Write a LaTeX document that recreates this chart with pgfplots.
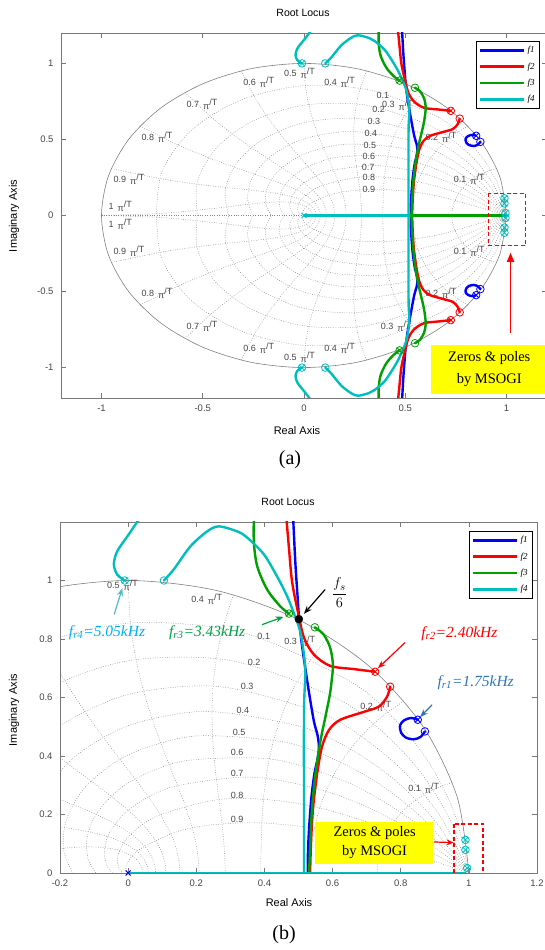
\documentclass[border=0pt]{standalone}
\usepackage{fontspec}
\setmainfont{Liberation Sans}
\newfontfamily\tnr{Liberation Serif}
\usepackage{pgfplots}
\usepackage{pgfplotstable}
\pgfplotsset{compat=1.18}
\usetikzlibrary{arrows.meta}

\definecolor{cB}{RGB}{0,0,255}
\definecolor{cR}{RGB}{255,0,0}
\definecolor{cG}{RGB}{0,160,0}
\definecolor{cC}{RGB}{0,190,190}
\definecolor{gridc}{RGB}{135,135,135}
\definecolor{axc}{RGB}{120,120,120}
\definecolor{lblc}{RGB}{70,70,70}
\definecolor{tfr4}{RGB}{0,176,240}
\definecolor{afr4}{RGB}{80,190,190}
\definecolor{tfr3}{RGB}{0,160,70}
\definecolor{tfr1}{RGB}{46,117,182}
\definecolor{ybox}{RGB}{255,255,0}

\newcommand{\pT}[1]{#1\hspace{4pt}\raisebox{-2.5pt}{π}\raisebox{1.5pt}{/T}}

% constant damping lines (polar: angle deg, radius)
\pgfplotstableread{
a z1 z2 z3 z4 z5 z6 z7 z8 z9
0 1 1 1 1 1 1 1 1 1
11.25 0.9805 0.9607 0.9401 0.9179 0.8928 0.8631 0.8249 0.7697 0.6667
22.5 0.9613 0.9230 0.8838 0.8425 0.7972 0.7449 0.6805 0.5924 0.4445
33.75 0.9425 0.8867 0.8309 0.7733 0.7117 0.6429 0.5614 0.4559 0.2963
45 0.9241 0.8519 0.7811 0.7098 0.6355 0.5549 0.4631 0.3509 0.1976
67.5 0.8883 0.7863 0.6904 0.5980 0.5065 0.4133 0.3151 0.2079 0.0878
90 0.8540 0.7257 0.6102 0.5038 0.4038 0.3079 0.2145 0.1231 0.0390
112.5 0.8209 0.6698 0.5393 0.4244 0.3219 0.2293 0.1459 0.0729 0.0174
135 0.7891 0.6182 0.4766 0.3576 0.2566 0.1708 0.0993 0.0432 0.0077
157.5 0.7586 0.5706 0.4213 0.3013 0.2045 0.1272 0.0676 0.0256 0.0034
180 0.7293 0.5266 0.3723 0.2539 0.1630 0.0948 0.0460 0.0152 0.0015
}\zt

% constant natural frequency curves (polar)
\pgfplotstableread{
a1 r1 a2 r2 a3 r3 a4 r4 a5 r5 a6 r6 a7 r7 a8 r8 a9 r9 a10 r10
18 1 36 1 54 1 72 1 90 1 108 1 126 1 144 1 162 1 180 1
17.910 0.9691 35.820 0.9391 53.729 0.9101 71.639 0.8819 89.549 0.8546 107.459 0.8282 125.369 0.8026 143.278 0.7777 161.188 0.7537 179.098 0.7304
17.636 0.9391 35.273 0.8819 52.909 0.8282 70.546 0.7777 88.182 0.7304 105.818 0.6859 123.455 0.6442 141.091 0.6049 158.728 0.5681 176.364 0.5335
17.171 0.9101 34.342 0.8282 51.513 0.7537 68.684 0.6859 85.855 0.6242 103.025 0.5681 120.196 0.5170 137.367 0.4705 154.538 0.4282 171.709 0.3897
16.497 0.8819 32.994 0.7777 49.491 0.6859 65.988 0.6049 82.485 0.5335 98.982 0.4705 115.479 0.4149 131.976 0.3660 148.473 0.3227 164.970 0.2846
15.588 0.8546 31.177 0.7304 46.765 0.6242 62.354 0.5335 77.942 0.4559 93.531 0.3897 109.119 0.3330 124.708 0.2846 140.296 0.2432 155.885 0.2079
14.4 0.8282 28.8 0.6859 43.2 0.5681 57.6 0.4705 72 0.3897 86.4 0.3227 100.8 0.2673 115.2 0.2214 129.6 0.1833 144 0.1518
12.855 0.8026 25.709 0.6442 38.564 0.5170 51.418 0.4149 64.273 0.3330 77.127 0.2673 89.982 0.2145 102.836 0.1722 115.691 0.1382 128.545 0.1109
10.8 0.7777 21.6 0.6049 32.4 0.4705 43.2 0.3660 54 0.2846 64.8 0.2214 75.6 0.1722 86.4 0.1339 97.2 0.1041 108 0.0810
7.846 0.7537 15.692 0.5681 23.539 0.4282 31.385 0.3227 39.231 0.2432 47.077 0.1833 54.923 0.1382 62.770 0.1041 70.616 0.0785 78.462 0.0592
5.620 0.7420 11.239 0.5505 16.859 0.4085 22.478 0.3031 28.098 0.2249 33.718 0.1669 39.337 0.1238 44.957 0.0918 50.576 0.0682 56.196 0.0506
2.540 0.7327 5.080 0.5368 7.619 0.3933 10.159 0.2882 12.699 0.2112 15.239 0.1547 17.779 0.1134 20.318 0.0831 22.858 0.0609 25.398 0.0446
0 0.7304 0 0.5335 0 0.3897 0 0.2846 0 0.2079 0 0.1518 0 0.1109 0 0.0810 0 0.0592 0 0.0432
}\wt

% unit circle
\pgfplotstableread{
a r
0 1
15 1
30 1
45 1
60 1
75 1
90 1
105 1
120 1
135 1
150 1
165 1
180 1
195 1
210 1
225 1
240 1
255 1
270 1
285 1
300 1
315 1
330 1
345 1
360 1
}\ct

% root locus branches (upper half)
\pgfplotstableread{
x y
0.484 1.22
0.491 1.055
0.497 0.95
0.502 0.866
0.510 0.780
0.520 0.700
0.531 0.616
0.545 0.520
0.556 0.470
0.560 0.430
0.556 0.390
0.547 0.342
0.538 0.260
0.532 0.170
0.528 0.080
0.527 0.000
}\tBa
\pgfplotstableread{
x y
0.850 0.524
0.830 0.530
0.810 0.522
0.798 0.505
0.801 0.480
0.815 0.463
0.838 0.457
0.858 0.465
0.871 0.484
}\tBb
\pgfplotstableread{
x y
0.464 1.22
0.472 1.110
0.481 0.997
0.498 0.894
0.516 0.805
0.545 0.747
0.593 0.708
0.663 0.697
0.725 0.688
}\tRa
\pgfplotstableread{
x y
0.769 0.637
0.760 0.603
0.736 0.569
0.692 0.551
0.623 0.524
0.590 0.490
0.569 0.432
0.555 0.342
0.543 0.226
0.537 0.113
0.534 0.000
}\tRb
\pgfplotstableread{
x y
0.369 1.22
0.369 1.130
0.379 1.048
0.408 0.969
0.447 0.911
0.472 0.887
}\tGa
\pgfplotstableread{
x y
0.548 0.840
0.574 0.815
0.593 0.770
0.601 0.712
0.597 0.654
0.592 0.610
0.579 0.534
0.565 0.455
0.550 0.342
0.540 0.226
0.535 0.113
0.531 0.000
}\tGb
\pgfplotstableread{
x y
0.038 1.22
0.002 1.158
-0.032 1.100
-0.042 1.055
-0.032 1.020
-0.010 1.000
}\tCa
\pgfplotstableread{
x y
0.105 1.000
0.134 1.038
0.183 1.117
0.232 1.168
0.266 1.185
0.320 1.168
0.349 1.147
0.398 1.090
0.437 1.014
0.467 0.945
0.490 0.877
0.505 0.826
0.516 0.747
0.520 0.680
0.517 0.600
0.516 0.500
0.516 0.300
0.516 0.000
}\tCb

\tikzset{gl/.style={font=\fontsize{9}{10}\selectfont, text=lblc, inner sep=0pt},
  rdash/.style={draw=cR, line width=1.8pt, dash pattern=on 4pt off 2.5pt}}
\pgfplotsset{
  rl/.style={
    scale only axis,
    axis line style={draw=axc, line width=0.7pt},
    every tick/.style={draw=axc, line width=0.6pt},
    major tick length=5pt,
    tick align=inside,
    ticklabel style={font=\fontsize{9.5}{11}\selectfont, text=lblc},
    xticklabel style={yshift=-3pt},
    yticklabel style={xshift=-4pt},
    legend cell align=left,
    legend style={draw=black, line width=0.8pt, fill=white,
      font=\tnr\itshape\fontsize{9}{10}\selectfont,
      inner xsep=3pt, inner ysep=3pt, row sep=4.5pt},
    legend image code/.code={\draw[##1] (0pt,0pt) -- (44pt,0pt);},
  },
  zg/.style={draw=gridc, line width=0.45pt, dash pattern=on 0.8pt off 1.6pt, smooth, no marks, forget plot, data cs=polar},
  zgc/.style={draw=gridc, line width=0.45pt, dash pattern=on 0.8pt off 1.6pt, no marks, forget plot},
  uc/.style={draw=gray, line width=0.6pt, smooth, no marks, forget plot, data cs=polar},
  cur/.style={line width=2.4pt, smooth, no marks, forget plot, line cap=round, line join=round},
  otm/.style={only marks, mark=otimes, mark size=3.8pt, mark options={line width=0.8pt}, forget plot},
  ocm/.style={only marks, mark=o, mark size=3.8pt, mark options={line width=0.8pt}, forget plot},
}

\begin{document}
\begin{tikzpicture}
% ================= (a) =================
\begin{axis}[rl, at={(61pt,552pt)}, anchor=south west, width=486pt, height=365pt,
  xmin=-1.2, xmax=1.2, ymin=-1.2, ymax=1.2,
  xtick={-1,-0.5,0,0.5,1}, xticklabels={-1,-0.5,0,0.5,1},
  ytick={-1,-0.5,0,0.5,1}, yticklabels={-1,-0.5,0,0.5,1},
  legend style={at={(0.9856,0.978)}, anchor=north east}]
\addplot[zgc] coordinates {(-1,0) (1,0)};
\pgfplotsinvokeforeach{1,...,9}{
  \addplot[zg] table[x=a,y=z#1]{\zt};
  \addplot[zg] table[x expr=-\thisrow{a},y=z#1]{\zt};
}
\pgfplotsinvokeforeach{1,...,10}{
  \addplot[zg] table[x=a#1,y=r#1]{\wt};
  \addplot[zg] table[x expr=-\thisrow{a#1},y=r#1]{\wt};
}
\addplot[uc] table[x=a,y=r]{\ct};
% grid labels
\node[gl,anchor=west] at (axis cs:0.739,0.237) {\pT{0.1}};
\node[gl,anchor=west] at (axis cs:0.600,0.513) {\pT{0.2}};
\node[gl,anchor=west] at (axis cs:0.385,0.727) {\pT{0.3}};
\node[gl,anchor=west] at (axis cs:0.099,0.875) {\pT{0.4}};
\node[gl,anchor=west] at (axis cs:-0.099,0.934) {\pT{0.5}};
\node[gl,anchor=west] at (axis cs:-0.300,0.875) {\pT{0.6}};
\node[gl,anchor=west] at (axis cs:-0.581,0.730) {\pT{0.7}};
\node[gl,anchor=west] at (axis cs:-0.803,0.513) {\pT{0.8}};
\node[gl,anchor=west] at (axis cs:-0.941,0.237) {\pT{0.9}};
\node[gl,anchor=west] at (axis cs:-0.966,0.060) {\pT{1}};
\node[gl,anchor=west] at (axis cs:0.739,-0.237) {\pT{0.1}};
\node[gl,anchor=west] at (axis cs:0.600,-0.513) {\pT{0.2}};
\node[gl,anchor=west] at (axis cs:0.379,-0.730) {\pT{0.3}};
\node[gl,anchor=west] at (axis cs:0.099,-0.875) {\pT{0.4}};
\node[gl,anchor=west] at (axis cs:-0.099,-0.934) {\pT{0.5}};
\node[gl,anchor=west] at (axis cs:-0.300,-0.875) {\pT{0.6}};
\node[gl,anchor=west] at (axis cs:-0.581,-0.730) {\pT{0.7}};
\node[gl,anchor=west] at (axis cs:-0.803,-0.513) {\pT{0.8}};
\node[gl,anchor=west] at (axis cs:-0.941,-0.237) {\pT{0.9}};
\node[gl,anchor=west] at (axis cs:-0.966,-0.060) {\pT{1}};
\node[gl] at (axis cs:0.390,0.792) {0.1};
\node[gl] at (axis cs:0.369,0.697) {0.2};
\node[gl] at (axis cs:0.345,0.618) {0.3};
\node[gl] at (axis cs:0.330,0.540) {0.4};
\node[gl] at (axis cs:0.325,0.460) {0.5};
\node[gl] at (axis cs:0.320,0.388) {0.6};
\node[gl] at (axis cs:0.317,0.316) {0.7};
\node[gl] at (axis cs:0.320,0.250) {0.8};
\node[gl] at (axis cs:0.320,0.171) {0.9};
% loci
\addplot[cur,cB] table{\tBa};
\addplot[cur,cB] table[x=x,y expr=-\thisrow{y}]{\tBa};
\addplot[cur,cB] table{\tBb};
\addplot[cur,cB] table[x=x,y expr=-\thisrow{y}]{\tBb};
\addplot[cur,cR] table{\tRa};
\addplot[cur,cR] table[x=x,y expr=-\thisrow{y}]{\tRa};
\addplot[cur,cR] table{\tRb};
\addplot[cur,cR] table[x=x,y expr=-\thisrow{y}]{\tRb};
\addplot[cur,cG] table{\tGa};
\addplot[cur,cG] table[x=x,y expr=-\thisrow{y}]{\tGa};
\addplot[cur,cG] table{\tGb};
\addplot[cur,cG] table[x=x,y expr=-\thisrow{y}]{\tGb};
\addplot[cur,cC] table{\tCa};
\addplot[cur,cC] table[x=x,y expr=-\thisrow{y}]{\tCa};
\addplot[cur,cC] table{\tCb};
\addplot[cur,cC] table[x=x,y expr=-\thisrow{y}]{\tCb};
\addplot[cur,cC] coordinates {(0,0) (0.527,0)};
\addplot[cur,cG] coordinates {(0.527,0) (0.99,0)};
% markers
\addplot[otm,cB] coordinates {(0.850,0.524) (0.850,-0.524)};
\addplot[ocm,cB] coordinates {(0.871,0.484) (0.871,-0.484)};
\addplot[otm,cR] coordinates {(0.725,0.688) (0.725,-0.688)};
\addplot[ocm,cR] coordinates {(0.769,0.637) (0.769,-0.637)};
\addplot[otm,cG] coordinates {(0.472,0.887) (0.472,-0.887)};
\addplot[ocm,cG] coordinates {(0.548,0.840) (0.548,-0.840)};
\addplot[otm,cC] coordinates {(-0.010,1.000) (-0.010,-1.000)};
\addplot[ocm,cC] coordinates {(0.105,1.000) (0.105,-1.000)};
\addplot[otm,cC] coordinates {(0.99,0.113) (0.99,0.079) (0.995,0.017) (0.995,-0.017) (0.99,-0.079) (0.99,-0.113)};
\addplot[only marks, mark=x, mark size=3.5pt, cC, mark options={line width=1pt}, forget plot] coordinates {(0,0)};
% annotations
\draw[rdash] (axis cs:0.911,0.145) rectangle (axis cs:1.094,-0.197);
\draw[cR, line width=1.8pt, -{Triangle[length=9pt,width=7pt]}] (axis cs:1.02,-0.77) -- (axis cs:1.02,-0.245);
\fill[ybox] (axis cs:0.626,-0.849) rectangle (axis cs:1.25,-1.171);
\node[font=\tnr\fontsize{14.5}{22}\selectfont, align=center] at (axis cs:0.915,-1.007) {Zeros \& poles\\by MSOGI};
% legend
\addlegendimage{cB, line width=2.6pt}\addlegendentry{f1}
\addlegendimage{cR, line width=2.6pt}\addlegendentry{f2}
\addlegendimage{cG, line width=2.6pt}\addlegendentry{f3}
\addlegendimage{cC, line width=2.6pt}\addlegendentry{f4}
\end{axis}
\node[font=\fontsize{10.5}{12}\selectfont] at (303pt,937pt) {Root Locus};
\node[font=\fontsize{11}{12}\selectfont] at (297pt,519pt) {Real Axis};
\node[font=\fontsize{11}{12}\selectfont, rotate=90] at (14pt,734pt) {Imaginary Axis};
\node[font=\tnr\fontsize{20}{22}\selectfont] at (290pt,490pt) {(a)};

% ================= (b) =================
\begin{axis}[rl, at={(60pt,77pt)}, anchor=south west, width=477pt, height=351pt,
  xmin=-0.2, xmax=1.2, ymin=0, ymax=1.2,
  xtick={-0.2,0,0.2,0.4,0.6,0.8,1,1.2}, xticklabels={-0.2,0,0.2,0.4,0.6,0.8,1,1.2},
  ytick={0,0.2,0.4,0.6,0.8,1}, yticklabels={0,0.2,0.4,0.6,0.8,1},
  legend style={at={(0.9916,0.974)}, anchor=north east}]
\addplot[zgc] coordinates {(-1,0) (1,0)};
\pgfplotsinvokeforeach{1,...,9}{
  \addplot[zg] table[x=a,y=z#1]{\zt};
}
\pgfplotsinvokeforeach{1,...,10}{
  \addplot[zg] table[x=a#1,y=r#1]{\wt};
}
\addplot[uc] table[x=a,y=r]{\ct};
\node[gl,anchor=west] at (axis cs:0.822,0.288) {\pT{0.1}};
\node[gl,anchor=west] at (axis cs:0.681,0.569) {\pT{0.2}};
\node[gl,anchor=west] at (axis cs:0.458,0.791) {\pT{0.3}};
\node[gl,anchor=west] at (axis cs:0.185,0.935) {\pT{0.4}};
\node[gl,anchor=west] at (axis cs:-0.062,0.983) {\pT{0.5}};
\node[gl] at (axis cs:0.398,0.808) {0.1};
\node[gl] at (axis cs:0.370,0.719) {0.2};
\node[gl] at (axis cs:0.349,0.637) {0.3};
\node[gl] at (axis cs:0.337,0.555) {0.4};
\node[gl] at (axis cs:0.326,0.479) {0.5};
\node[gl] at (axis cs:0.320,0.411) {0.6};
\node[gl] at (axis cs:0.320,0.339) {0.7};
\node[gl] at (axis cs:0.320,0.264) {0.8};
\node[gl] at (axis cs:0.320,0.182) {0.9};
\addplot[cur,cB] table{\tBa};
\addplot[cur,cB] table{\tBb};
\addplot[cur,cR] table{\tRa};
\addplot[cur,cR] table{\tRb};
\addplot[cur,cG] table{\tGa};
\addplot[cur,cG] table{\tGb};
\addplot[cur,cC] table{\tCa};
\addplot[cur,cC] table{\tCb};
\addplot[cur,cC] coordinates {(0,0) (0.99,0)};
\addplot[otm,cB] coordinates {(0.850,0.524)};
\addplot[ocm,cB] coordinates {(0.871,0.484)};
\addplot[otm,cR] coordinates {(0.725,0.688)};
\addplot[ocm,cR] coordinates {(0.769,0.637)};
\addplot[otm,cG] coordinates {(0.472,0.887)};
\addplot[ocm,cG] coordinates {(0.548,0.840)};
\addplot[otm,cC] coordinates {(-0.010,1.000)};
\addplot[ocm,cC] coordinates {(0.105,1.000)};
\addplot[otm,cC] coordinates {(0.99,0.113) (0.99,0.079) (0.995,0.017)};
\addplot[only marks, mark=x, mark size=3.5pt, cB, mark options={line width=1pt}, forget plot] coordinates {(0,0)};
\addplot[only marks, mark=*, mark size=4pt, black, forget plot] coordinates {(0.501,0.868)};
% annotations
\draw[black, line width=1.2pt, -{Stealth[length=8pt,width=6pt]}] (axis cs:0.578,0.969) -- (axis cs:0.516,0.886);
\node[font=\fontsize{15}{18}\selectfont] at (axis cs:0.62,0.958) {$\displaystyle\frac{f_s}{6}$};
\draw[cR, line width=1.2pt, -{Stealth[length=8pt,width=6pt]}] (axis cs:0.813,0.788) -- (axis cs:0.733,0.700);
\node[text=cR, font=\tnr\itshape\fontsize{15.5}{18}\selectfont] at (axis cs:0.972,0.818) {f\textsubscript{r2}=2.40kHz};
\draw[tfr1, line width=1.2pt, -{Stealth[length=8pt,width=6pt]}] (axis cs:0.892,0.575) -- (axis cs:0.857,0.533);
\node[text=tfr1, font=\tnr\itshape\fontsize{15.5}{18}\selectfont] at (axis cs:1.02,0.650) {f\textsubscript{r1}=1.75kHz};
\draw[afr4, line width=1.2pt, -{Stealth[length=8pt,width=6pt]}] (axis cs:-0.041,0.884) -- (axis cs:-0.017,0.974);
\node[text=tfr4, font=\tnr\itshape\fontsize{15.5}{18}\selectfont] at (axis cs:-0.062,0.822) {f\textsubscript{r4}=5.05kHz};
\draw[tfr3, line width=1.2pt, -{Stealth[length=8pt,width=6pt]}] (axis cs:0.393,0.849) -- (axis cs:0.456,0.876);
\node[text=tfr3, font=\tnr\itshape\fontsize{15.5}{18}\selectfont] at (axis cs:0.232,0.822) {f\textsubscript{r3}=3.43kHz};
\draw[rdash] (axis cs:0.957,0.168) rectangle (axis cs:1.042,-0.007);
\draw[cR, line width=1.2pt, -{Stealth[length=7pt,width=6pt]}] (axis cs:0.898,0.106) -- (axis cs:0.955,0.104);
\fill[ybox] (axis cs:0.549,0.175) rectangle (axis cs:0.895,0.031);
\node[font=\tnr\fontsize{14.5}{19}\selectfont, align=center] at (axis cs:0.7235,0.104) {Zeros \& poles\\by MSOGI};
\addlegendimage{cB, line width=2.6pt}\addlegendentry{f1}
\addlegendimage{cR, line width=2.6pt}\addlegendentry{f2}
\addlegendimage{cG, line width=2.6pt}\addlegendentry{f3}
\addlegendimage{cC, line width=2.6pt}\addlegendentry{f4}
\end{axis}
\node[font=\fontsize{10.5}{12}\selectfont] at (288pt,448pt) {Root Locus};
\node[font=\fontsize{11}{12}\selectfont] at (289pt,47pt) {Real Axis};
\node[font=\fontsize{11}{12}\selectfont, rotate=90] at (14pt,240pt) {Imaginary Axis};
\node[font=\tnr\fontsize{20}{22}\selectfont] at (284pt,15pt) {(b)};
\pgfresetboundingbox
\path[use as bounding box] (0pt,0pt) rectangle (545pt,950pt);
\end{tikzpicture}
\end{document}
